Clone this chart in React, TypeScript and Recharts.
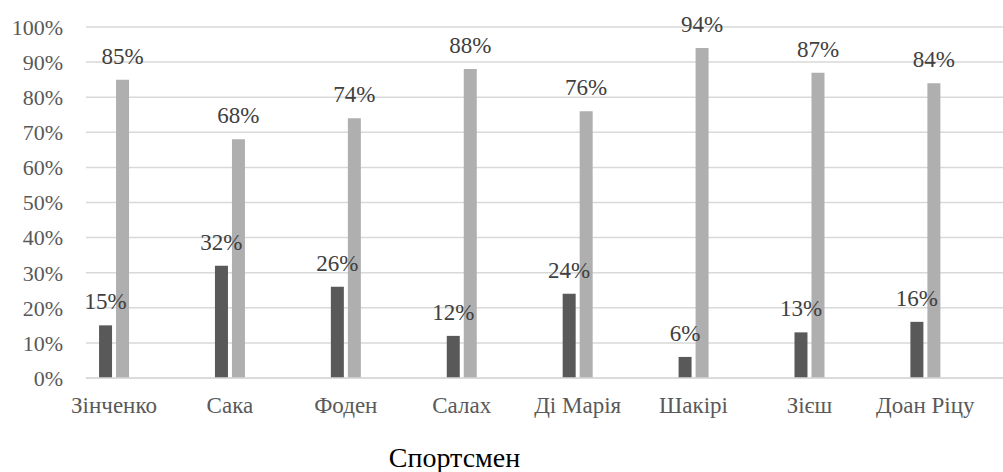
import React from 'react';
import { BarChart, Bar, XAxis, YAxis, CartesianGrid, LabelList } from 'recharts';

const athletes = ['Зінченко', 'Сака', 'Фоден', 'Салах', 'Ді Марія', 'Шакірі', 'Зієш', 'Доан Ріцу'];
const darkValues = [15, 32, 26, 12, 24, 6, 13, 16];
const lightValues = [85, 68, 74, 88, 76, 94, 87, 84];
const yTicks = [0, 10, 20, 30, 40, 50, 60, 70, 80, 90, 100];

const data = athletes.map((name, i) => ({ idx: i, name, dark: darkValues[i], light: lightValues[i] }));
const xTicks = athletes.map((_, i) => i);

const FONT = '"Liberation Serif", "Times New Roman", serif';

const App: React.FC = () => {
    return (
        <div style={{ position: 'absolute', left: 0, top: 0, width: 1003, height: 472, background: '#fff' }}>
            <BarChart
                width={1003}
                height={472}
                data={data}
                margin={{ top: 27, right: 0, bottom: 0, left: 0 }}
                barSize={13}
                barGap={4}
                style={{ fontFamily: FONT }}
            >
                <CartesianGrid vertical={false} stroke="#d9d9d9" strokeWidth={1.5} />
                <XAxis
                    dataKey="idx"
                    type="number"
                    domain={[-0.2416, 7.67]}
                    allowDataOverflow
                    ticks={xTicks}
                    tickFormatter={(v: number) => athletes[v] ?? ''}
                    interval={0}
                    height={94}
                    tickLine={false}
                    tickSize={0}
                    tickMargin={19}
                    axisLine={{ stroke: '#d9d9d9', strokeWidth: 1.5 }}
                    tick={{ fill: '#595959', fontSize: 23, fontFamily: FONT }}
                    label={{ value: 'Спортсмен', position: 'insideBottom', offset: 5, dx: -90, fill: '#000', fontSize: 28, fontFamily: FONT }}
                />
                <YAxis
                    type="number"
                    domain={[0, 100]}
                    ticks={yTicks}
                    tickFormatter={(v: number) => `${v}%`}
                    width={86}
                    tickLine={false}
                    axisLine={false}
                    tickSize={0}
                    tickMargin={23}
                    tick={{ fill: '#595959', fontSize: 22, fontFamily: FONT }}
                />
                <Bar dataKey="dark" fill="#595959" isAnimationActive={false}>
                    <LabelList dataKey="dark" position="top" offset={16} formatter={(v: number) => `${v}%`} fill="#404040" fontSize={23} fontFamily={FONT} />
                </Bar>
                <Bar dataKey="light" fill="#afafaf" isAnimationActive={false}>
                    <LabelList dataKey="light" position="top" offset={16} formatter={(v: number) => `${v}%`} fill="#404040" fontSize={23} fontFamily={FONT} />
                </Bar>
            </BarChart>
        </div>
    );
};

export default App;
